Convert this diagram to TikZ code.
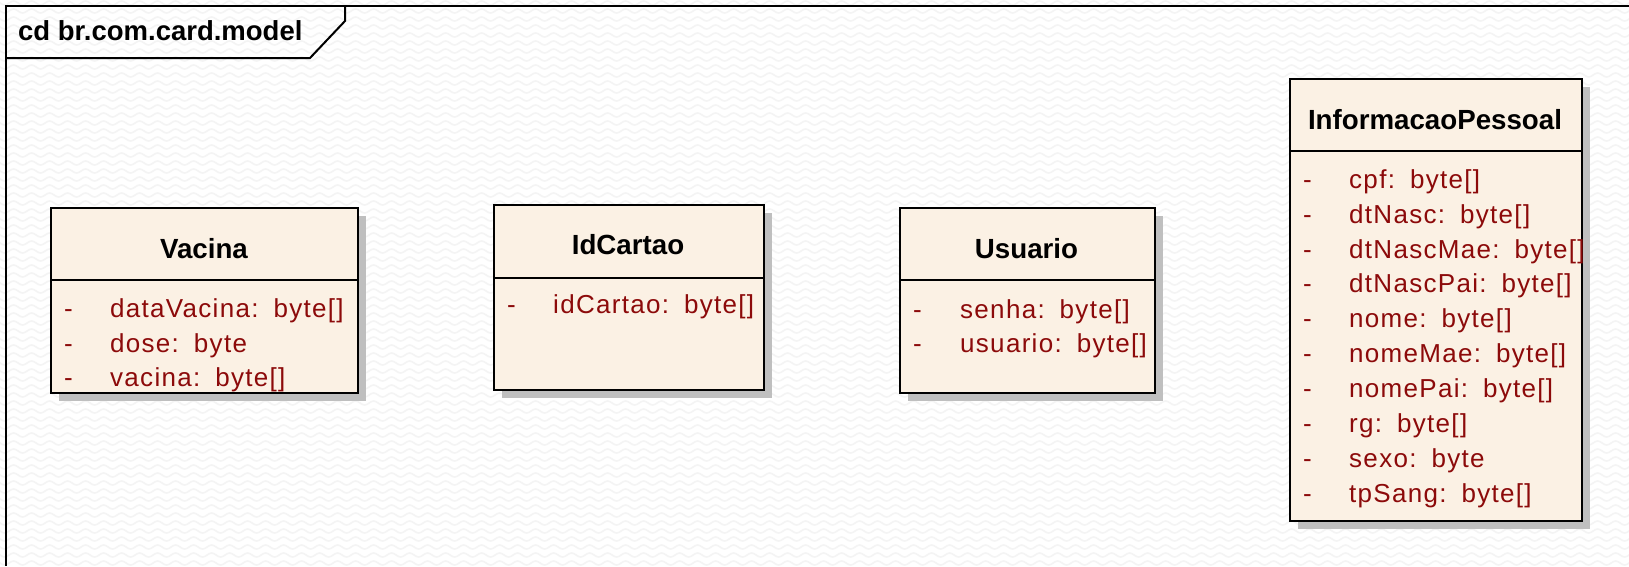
\documentclass[tikz,border=0pt]{standalone}
\usepackage{fontspec}
\setmainfont{Liberation Sans}
\newfontfamily\attrfamily[LetterSpace=5]{Liberation Sans}
\usetikzlibrary{shadows,decorations.pathmorphing}
\definecolor{classfill}{RGB}{251,241,228}
\definecolor{attrred}{RGB}{140,10,10}
\definecolor{wavegray}{RGB}{244,244,244}
\newcommand\attr[2]{#1:\hspace{15pt}#2}
\tikzset{
  wave/.style={draw=wavegray, line width=1.6pt,
    decorate, decoration={snake, segment length=18pt, amplitude=2pt}},
  frameline/.style={draw=black, line width=2pt},
  classbox/.style={draw=black, line width=2pt, fill=classfill, anchor=north west,
    inner sep=0pt, rectangle,
    drop shadow={shadow xshift=8pt, shadow yshift=-8pt, fill=black!25, opacity=1}},
  divider/.style={draw=black, line width=2pt},
  framelabel/.style={anchor=base west, inner sep=0pt,
    font=\fontsize{27.5}{32}\selectfont\bfseries},
  classname/.style={anchor=base, inner sep=0pt,
    font=\fontsize{27.7}{32}\selectfont\bfseries},
  vis/.style={anchor=base west, inner sep=0pt, text=attrred,
    font=\attrfamily\fontsize{26}{30}\selectfont},
  attrib/.style={anchor=base west, inner sep=0pt, text=attrred,
    font=\attrfamily\fontsize{26}{30}\selectfont}
}
\begin{document}
\begin{tikzpicture}[x=1pt,y=-1pt]
  \useasboundingbox (0,0) rectangle (1629,566);
  \fill[white] (0,0) rectangle (1629,566);
  % textured background
  \begin{scope}
    \clip (0,0) rectangle (1629,566);
    \foreach \yy in {3,11,...,571}
      \draw[wave] (-10,\yy) -- (1640,\yy);
  \end{scope}

  % diagram frame and its name tab
  \draw[frameline] (1629,6) -- (6,6) -- (6,566);
  \draw[frameline] (6,58) -- (310,58) -- (345,21) -- (345,6);
  \node[framelabel] (frametitle) at (18,40) {cd br.com.card.model};

  % class Vacina
  \node[classbox, minimum width=307pt, minimum height=185pt] (vacina) at (50,207) {};
  \coordinate (vacdivl) at (50,280);
  \coordinate (vacdivr) at (357,280);
  \draw[divider] (vacdivl) -- (vacdivr);
  \node[classname] (vacinaname) at (204,258) {Vacina};
  \node[vis] (vacv1) at (64,317) {-};
  \node[attrib] (vaca1) at (110,317) {\attr{dataVacina}{byte[]}};
  \node[vis] (vacv2) at (64,352) {-};
  \node[attrib] (vaca2) at (110,352) {\attr{dose}{byte}};
  \node[vis] (vacv3) at (64,386) {-};
  \node[attrib] (vaca3) at (110,386) {\attr{vacina}{byte[]}};

  % class IdCartao
  \node[classbox, minimum width=270pt, minimum height=185pt] (idcartao) at (493,204) {};
  \coordinate (iddivl) at (493,278);
  \coordinate (iddivr) at (763,278);
  \draw[divider] (iddivl) -- (iddivr);
  \node[classname] (idcartaoname) at (628,254) {IdCartao};
  \node[vis] (idv1) at (507,313) {-};
  \node[attrib] (ida1) at (553,313) {\attr{idCartao}{byte[]}};

  % class Usuario
  \node[classbox, minimum width=255pt, minimum height=185pt] (usuario) at (899,207) {};
  \coordinate (usdivl) at (899,280);
  \coordinate (usdivr) at (1154,280);
  \draw[divider] (usdivl) -- (usdivr);
  \node[classname] (usuarioname) at (1026.5,258) {Usuario};
  \node[vis] (usv1) at (913,318) {-};
  \node[attrib] (usa1) at (960,318) {\attr{senha}{byte[]}};
  \node[vis] (usv2) at (913,352) {-};
  \node[attrib] (usa2) at (960,352) {\attr{usuario}{byte[]}};

  % class InformacaoPessoal
  \node[classbox, minimum width=292pt, minimum height=442pt] (info) at (1289,78) {};
  \coordinate (infdivl) at (1289,151);
  \coordinate (infdivr) at (1581,151);
  \draw[divider] (infdivl) -- (infdivr);
  \node[classname] (infoname) at (1435,129) {InformacaoPessoal};
  \foreach \nm/\ty/\yy [count=\i] in {cpf/byte[]/188, dtNasc/byte[]/223,
      dtNascMae/byte[]/258, dtNascPai/byte[]/292, nome/byte[]/327,
      nomeMae/byte[]/362, nomePai/byte[]/397, rg/byte[]/432,
      sexo/byte/467, tpSang/byte[]/502} {
    \node[vis] (infv\i) at (1303,\yy) {-};
    \node[attrib] (infa\i) at (1349,\yy) {\attr{\nm}{\ty}};
  }
\end{tikzpicture}
\end{document}
